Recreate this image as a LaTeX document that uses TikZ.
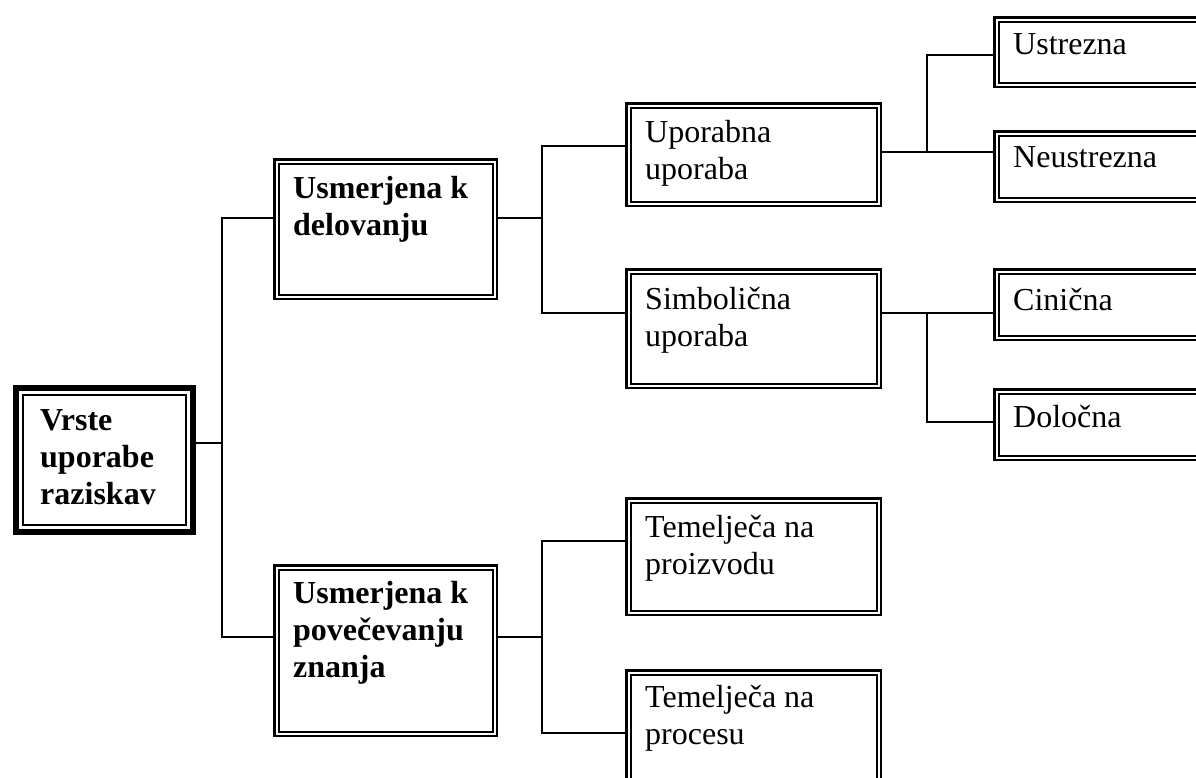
\documentclass[tikz,border=0pt]{standalone}
\usepackage{fontspec}
\setmainfont{Liberation Serif}
\begin{document}
\begin{tikzpicture}[x=1pt,y=-1pt,
  dbox/.style={draw, double, double distance=2pt, line width=2.2pt,
    inner sep=0pt, outer sep=3.3pt, anchor=north west},
  rootbox/.style={draw, line width=6pt, inner sep=0pt, outer sep=3pt, anchor=north west},
  conn/.style={line width=2.3pt, line join=miter},
  lbl/.style={inner sep=0pt, anchor=base west, font=\fontsize{32}{37}\selectfont},
  rw/.style={minimum width=250.4pt},
  lw/.style={minimum width=228.4pt}]
\useasboundingbox (0,0) rectangle (1196,778);

% root box: thick outer frame with a thin inner frame
\node[rootbox, minimum width=177pt, minimum height=144pt] (root) at (13,385) {};
\draw[line width=1.9pt] ([xshift=10pt,yshift=-10pt]root.north west)
  rectangle ([xshift=-10pt,yshift=10pt]root.south east);

% first level
\node[dbox, minimum width=218.4pt, minimum height=135.4pt] (b1) at (273.3,158.3) {};
\node[dbox, minimum width=218.4pt, minimum height=166.4pt] (b2) at (273.3,564.3) {};

% second level
\node[dbox, rw, minimum height=98.4pt]  (u)  at (625.3,102.3) {};
\node[dbox, rw, minimum height=114.4pt] (s)  at (625.3,268.3) {};
\node[dbox, rw, minimum height=112.4pt] (p1) at (625.3,497.3) {};
\node[dbox, rw, minimum height=150pt]   (p2) at (625.3,669.3) {};

% third level
\node[dbox, lw, minimum height=65.4pt] (ust) at (993.3,16.3) {};
\node[dbox, lw, minimum height=66.4pt] (neu) at (993.3,130.3) {};
\node[dbox, lw, minimum height=66.4pt] (cin) at (993.3,268.3) {};
\node[dbox, lw, minimum height=66.4pt] (dol) at (993.3,388.3) {};

% labels
\node[lbl] (troot) at (40,430) {\parbox[t]{140pt}{\bfseries Vrste\\uporabe\\raziskav}};
\node[lbl] (tb1) at (293,198) {\parbox[t]{190pt}{\bfseries Usmerjena k\\delovanju}};
\node[lbl] (tb2) at (293,603) {\parbox[t]{190pt}{\bfseries Usmerjena k\\povečevanju\\znanja}};
\node[lbl] (tu)  at (645,143) {\parbox[t]{220pt}{Uporabna\\uporaba}};
\node[lbl] (ts)  at (645,309) {\parbox[t]{220pt}{Simbolična\\uporaba}};
\node[lbl] (tp1) at (645,537) {\parbox[t]{220pt}{Temelječa na\\proizvodu}};
\node[lbl] (tp2) at (645,707) {\parbox[t]{220pt}{Temelječa na\\procesu}};
\node[lbl] (tust) at (1013,55)  {Ustrezna};
\node[lbl] (tneu) at (1013,168) {Neustrezna};
\node[lbl] (tcin) at (1013,310) {Cinična};
\node[lbl] (tdol) at (1013,427) {Določna};

% junction points
\coordinate (j0) at (222,443);
\coordinate (ja) at (222,218);
\coordinate (jb) at (222,637);
\coordinate (jc) at (542,218);
\coordinate (jc1) at (542,146);
\coordinate (jc2) at (542,313);
\coordinate (jd) at (927,152);
\coordinate (jd1) at (927,55);
\coordinate (je) at (927,313);
\coordinate (je2) at (927,422);
\coordinate (jf) at (542,637);
\coordinate (jf1) at (542,541);
\coordinate (jf2) at (542,733);

% connectors
\draw[conn] (root.east |- j0) -- (j0);
\draw[conn] (b1.west |- ja) -- (ja) -- (jb) -- (b2.west |- jb);
\draw[conn] (b1.east |- jc) -- (jc);
\draw[conn] (u.west |- jc1) -- (jc1) -- (jc2) -- (s.west |- jc2);
\draw[conn] (u.east |- jd) -- (neu.west |- jd);
\draw[conn] (jd) -- (jd1) -- (ust.west |- jd1);
\draw[conn] (s.east |- je) -- (cin.west |- je);
\draw[conn] (je) -- (je2) -- (dol.west |- je2);
\draw[conn] (b2.east |- jf) -- (jf);
\draw[conn] (p1.west |- jf1) -- (jf1) -- (jf2) -- (p2.west |- jf2);
\end{tikzpicture}
\end{document}
